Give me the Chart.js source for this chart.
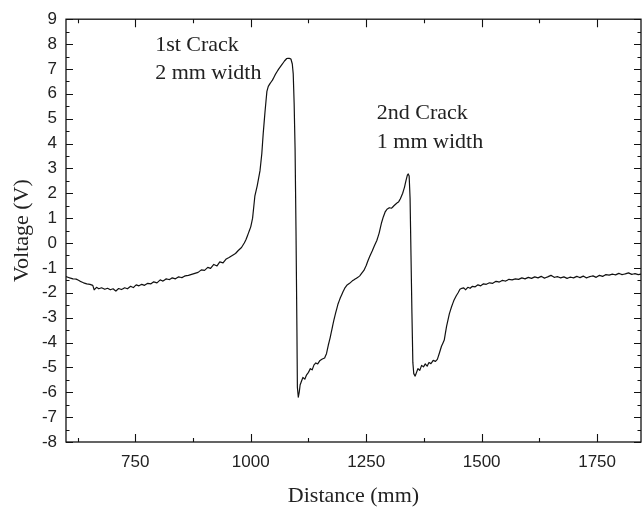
<!DOCTYPE html>
<html>
<head>
<meta charset="utf-8">
<script src="https://cdn.jsdelivr.net/npm/chart.js@4.4.1/dist/chart.umd.min.js"></script>
<style>
  html, body { margin: 0; padding: 0; background: #fff; }
</style>
</head>
<body>
<canvas id="chart" width="642" height="509"></canvas>
<script>
const distance = [
  600, 608, 615, 622, 630, 638, 645, 652, 658, 661, 666, 671, 677, 684, 690, 696, 702, 708, 714, 720,
  727, 733, 740, 746, 752, 758, 764, 770, 777, 784, 790, 797, 804, 810, 817, 824, 830, 837, 844, 851,
  858, 865, 872, 879, 886, 893, 900, 907, 913, 920, 927, 933, 940, 947, 953, 960, 967, 973, 980, 986,
  990, 995, 1000, 1004, 1009, 1014, 1020, 1024, 1027, 1031, 1035, 1038, 1042, 1047, 1053, 1060, 1067, 1073, 1078, 1083,
  1087, 1090, 1092, 1094, 1096, 1098, 1100, 1101, 1103, 1105, 1107, 1110, 1113, 1117, 1121, 1125, 1129, 1133, 1137, 1141,
  1145, 1150, 1155, 1160, 1164, 1168, 1172, 1176, 1180, 1184, 1189, 1194, 1200, 1204, 1208, 1214, 1220, 1226, 1232, 1236,
  1240, 1245, 1250, 1254, 1258, 1263, 1268, 1273, 1278, 1283, 1287, 1291, 1295, 1300, 1305, 1310, 1316, 1320, 1324, 1329,
  1333, 1336, 1339, 1341, 1343, 1345, 1347, 1349, 1351, 1353, 1356, 1359, 1362, 1366, 1370, 1374, 1378, 1382, 1386, 1390,
  1395, 1400, 1404, 1408, 1413, 1419, 1424, 1430, 1435, 1440, 1445, 1449, 1453, 1457, 1461, 1465, 1470, 1475, 1480, 1486,
  1492, 1498, 1504, 1510, 1517, 1524, 1531, 1538, 1545, 1552, 1559, 1566, 1573, 1580, 1587, 1594, 1601, 1608, 1615, 1622,
  1629, 1636, 1643, 1650, 1657, 1664, 1671, 1678, 1685, 1692, 1699, 1706, 1713, 1720, 1727, 1734, 1741, 1748, 1755, 1762,
  1769, 1776, 1783, 1790, 1797, 1804, 1811, 1818, 1825, 1832, 1839, 1845
];
const voltage = [
  -1.35, -1.40, -1.44, -1.45, -1.53, -1.60, -1.64, -1.66, -1.70, -1.88, -1.78, -1.84, -1.80, -1.86, -1.82, -1.88, -1.84, -1.93, -1.83, -1.87,
  -1.80, -1.84, -1.74, -1.79, -1.68, -1.72, -1.66, -1.70, -1.62, -1.64, -1.56, -1.60, -1.48, -1.53, -1.44, -1.47, -1.40, -1.44, -1.36, -1.39,
  -1.32, -1.30, -1.26, -1.22, -1.18, -1.08, -1.10, -0.98, -1.02, -0.86, -0.92, -0.76, -0.80, -0.64, -0.58, -0.50, -0.42, -0.30, -0.18, 0.00,
  0.15, 0.40, 0.65, 1.00, 1.90, 2.30, 2.90, 3.60, 4.40, 5.30, 6.10, 6.30, 6.42, 6.55, 6.77, 6.98, 7.16, 7.32, 7.42, 7.43,
  7.40, 7.20, 6.80, 5.60, 3.80, 0.50, -3.50, -5.80, -6.20, -6.00, -5.70, -5.55, -5.40, -5.48, -5.30, -5.20, -5.05, -5.10, -4.90, -4.82,
  -4.86, -4.72, -4.66, -4.62, -4.45, -4.10, -3.80, -3.45, -3.10, -2.80, -2.45, -2.20, -1.95, -1.80, -1.70, -1.62, -1.52, -1.45, -1.38, -1.32,
  -1.22, -1.10, -0.90, -0.70, -0.52, -0.32, -0.10, 0.10, 0.40, 0.80, 1.05, 1.25, 1.36, 1.42, 1.40, 1.50, 1.60, 1.65, 1.78, 2.00,
  2.25, 2.50, 2.72, 2.78, 2.70, 1.80, -0.50, -2.80, -4.80, -5.25, -5.35, -5.20, -5.05, -5.12, -4.92, -4.98, -4.86, -4.95, -4.80, -4.85,
  -4.72, -4.76, -4.68, -4.45, -4.15, -3.90, -3.35, -2.85, -2.55, -2.30, -2.12, -2.00, -1.86, -1.82, -1.80, -1.88, -1.78, -1.82, -1.74, -1.76,
  -1.68, -1.72, -1.64, -1.66, -1.60, -1.62, -1.54, -1.57, -1.50, -1.53, -1.46, -1.48, -1.44, -1.46, -1.40, -1.44, -1.38, -1.42, -1.36, -1.40,
  -1.34, -1.41, -1.36, -1.30, -1.38, -1.35, -1.40, -1.36, -1.42, -1.37, -1.40, -1.34, -1.39, -1.33, -1.40, -1.35, -1.32, -1.38, -1.30, -1.34,
  -1.27, -1.29, -1.25, -1.28, -1.22, -1.27, -1.24, -1.20, -1.26, -1.23, -1.27, -1.25
];

const xTicks = [750, 1000, 1250, 1500, 1750];
const xMinorTicks = [625, 875, 1125, 1375, 1625];
const yTicks = [-8, -7, -6, -5, -4, -3, -2, -1, 0, 1, 2, 3, 4, 5, 6, 7, 8, 9];

// crack labels, anchored in data units (left edge, baseline)
const noteText = ['1st Crack', '2 mm width', '2nd Crack', '1 mm width'];
const noteX = [793, 793, 1273, 1273];
const noteY = [7.73, 6.61, 4.97, 3.81];

const points = distance.map((d, i) => ({ x: d, y: voltage[i] }));

// box round the plot with inward ticks on all four sides, plus the notes
const framePlugin = {
  id: 'frame',
  afterDraw(chart) {
    const ctx = chart.ctx;
    const { left, right, top, bottom } = chart.chartArea;
    const xs = chart.scales.x, ys = chart.scales.y;
    ctx.save();
    ctx.strokeStyle = '#111';
    ctx.lineWidth = 1.3;
    ctx.strokeRect(left, top, right - left, bottom - top);
    ctx.lineWidth = 1.1;
    ctx.beginPath();
    const xTick = (v, len) => {
      const p = Math.round(xs.getPixelForValue(v)) + 0.5;
      ctx.moveTo(p, bottom); ctx.lineTo(p, bottom - len);
      ctx.moveTo(p, top); ctx.lineTo(p, top + len);
    };
    const yTick = (v, len) => {
      const p = Math.round(ys.getPixelForValue(v)) + 0.5;
      ctx.moveTo(left, p); ctx.lineTo(left + len, p);
      ctx.moveTo(right, p); ctx.lineTo(right - len, p);
    };
    xTicks.forEach(v => xTick(v, 8));
    xMinorTicks.forEach(v => xTick(v, 4));
    yTicks.forEach(v => yTick(v, 7));
    yTicks.slice(0, -1).forEach(v => yTick(v + 0.5, 3.5));
    ctx.stroke();

    ctx.fillStyle = '#222';
    ctx.font = '22px "Liberation Serif", "Times New Roman", serif';
    ctx.textBaseline = 'alphabetic';
    noteText.forEach((t, i) => {
      ctx.fillText(t, xs.getPixelForValue(noteX[i]), ys.getPixelForValue(noteY[i]));
    });
    ctx.restore();
  }
};

const tickFont = { family: '"Liberation Sans", Arial, sans-serif', size: 17 };
const titleFont = { family: '"Liberation Serif", "Times New Roman", serif', size: 22 };

new Chart(document.getElementById('chart'), {
  type: 'line',
  data: {
    datasets: [{
      data: points,
      borderColor: '#111',
      borderWidth: 1.2,
      borderJoinStyle: 'round',
      borderCapStyle: 'round',
      pointRadius: 0,
      tension: 0.0001, // keeps chart.js off its column-merging fast path
      fill: false
    }]
  },
  options: {
    responsive: false,
    animation: false,
    devicePixelRatio: 1,
    layout: { padding: { top: 17, right: 1, left: 0, bottom: 0 } },
    plugins: {
      legend: { display: false },
      tooltip: { enabled: false }
    },
    scales: {
      x: {
        type: 'linear',
        min: 600,
        max: 1845,
        grid: { display: false, drawTicks: false },
        border: { display: false },
        afterBuildTicks(scale) { scale.ticks = xTicks.map(v => ({ value: v })); },
        afterFit(scale) { scale.height = 67; },
        ticks: { font: tickFont, color: '#222', padding: 10, maxRotation: 0, callback: v => String(v) },
        title: { display: true, text: 'Distance (mm)', font: titleFont, color: '#222', padding: { top: 0, bottom: 0 } }
      },
      y: {
        min: -8,
        max: 9,
        grid: { display: false, drawTicks: false },
        border: { display: false },
        afterBuildTicks(scale) { scale.ticks = yTicks.map(v => ({ value: v })); },
        afterFit(scale) { scale.width = 66; },
        ticks: { font: tickFont, color: '#222', padding: 9, callback: v => String(v) },
        title: { display: true, text: 'Voltage (V)', font: titleFont, color: '#222', padding: { top: 9, bottom: 0 } }
      }
    }
  },
  plugins: [framePlugin]
});
</script>
</body>
</html>
